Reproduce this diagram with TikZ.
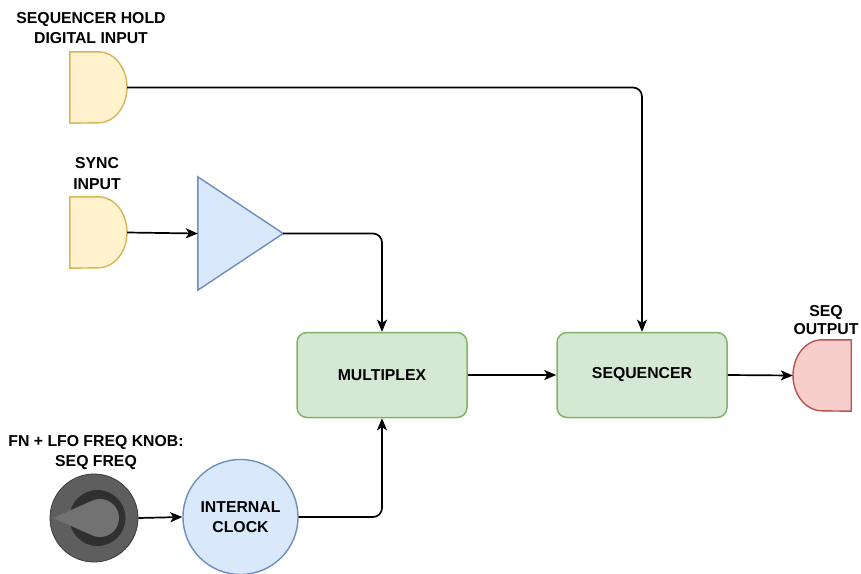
\documentclass[tikz,border=0pt]{standalone}
\usepackage{fontspec}
\setmainfont{Liberation Sans}
\usetikzlibrary{arrows.meta}
\definecolor{yelFill}{HTML}{FFF2CC}
\definecolor{yelLine}{HTML}{D6B656}
\definecolor{bluFill}{HTML}{DAE8FC}
\definecolor{bluLine}{HTML}{6C8EBF}
\definecolor{grnFill}{HTML}{D5E8D4}
\definecolor{grnLine}{HTML}{82B366}
\definecolor{redFill}{HTML}{F8CECC}
\definecolor{redLine}{HTML}{B85450}
\definecolor{knobOuter}{HTML}{5E5E5E}
\definecolor{knobEdge}{HTML}{3C3C3C}
\definecolor{knobRing}{HTML}{303030}
\definecolor{knobInner}{HTML}{727272}
\begin{document}
\begin{tikzpicture}[x=1pt,y=-1pt,
  lbl/.style={font=\fontsize{15.8}{20.5}\selectfont\bfseries, align=center, inner sep=0pt, text=black},
  conn/.style={draw=black, line width=1.7pt, -{Stealth[length=12pt,width=10pt,inset=3pt]}, rounded corners=9pt},
  greenbox/.style={lbl, rectangle, rounded corners=10pt, minimum width=170pt, minimum height=85pt, fill=grnFill, draw=grnLine, line width=1.5pt},
  holder/.style={rectangle, draw=none, inner sep=0pt, minimum width=57pt, minimum height=71pt},
  yelD/.style={fill=yelFill, draw=yelLine, line width=1.4pt},
  redD/.style={fill=redFill, draw=redLine, line width=1.4pt}
]
\useasboundingbox (0,0) rectangle (861,573);
\fill[white] (0,0) rectangle (861,573);

% labels
\node[lbl] (holdlbl) at (91,28) {SEQUENCER HOLD\\DIGITAL INPUT};
\node[lbl] (synclbl) at (97,173.5) {SYNC\\INPUT};
\node[lbl, font=\fontsize{15.8}{18}\selectfont\bfseries] (outlbl) at (826,320) {SEQ\\OUTPUT};
\node[lbl] (knoblbl) at (96,452.5) {FN + LFO FREQ KNOB:\\SEQ FREQ};

% D-shaped inputs
\node[holder] (hold) at (98.5,87.5) {};
\draw[yelD] (hold.north west) -- (hold.north) arc[start angle=-90,end angle=90,x radius=28.5,y radius=35.5] -- (hold.south west) -- cycle;
\node[holder] (sync) at (98.5,232.5) {};
\draw[yelD] (sync.north west) -- (sync.north) arc[start angle=-90,end angle=90,x radius=28.5,y radius=35.5] -- (sync.south west) -- cycle;

% output D
\node[holder, minimum width=58pt] (outp) at (822,375.5) {};
\draw[redD] (outp.north east) -- (outp.north) arc[start angle=-90,end angle=-270,x radius=29,y radius=35.5] -- (outp.south east) -- cycle;

% amplifier triangle
\node[rectangle, draw=none, inner sep=0pt, minimum width=85pt, minimum height=113pt] (amp) at (240.5,233.5) {};
\draw[fill=bluFill, draw=bluLine, line width=1.4pt] (amp.north west) -- (amp.east) -- (amp.south west) -- cycle;

% boxes
\node[greenbox] (mux) at (382,375) {MULTIPLEX};
\node[greenbox] (seq) at (642,375) {SEQUENCER};

% internal clock
\node[lbl, circle, minimum size=115pt, fill=bluFill, draw=bluLine, line width=1.4pt] (clock) at (240.5,517) {INTERNAL\\CLOCK};

% knob
\node[circle, inner sep=0pt, minimum size=88pt, fill=knobOuter, draw=knobEdge, line width=0.8pt] (knob) at (94,518) {};
\fill[knobRing] (97.5,518) circle[radius=28];
\fill[knobInner] (53,518) -- ([shift={(100,518)}]113:19) arc[start angle=113,end angle=-113,radius=19] -- cycle;

% connectors
\draw[conn] (hold.east) -| (seq.north);
\draw[conn] (sync.east) -- (amp.west);
\draw[conn] (amp.east) -| (mux.north);
\draw[conn] (mux.east) -- (seq.west);
\draw[conn] (seq.east) -- (outp.west);
\draw[conn] (knob.east) -- (clock.west);
\draw[conn] (clock.east) -| (mux.south);
\end{tikzpicture}
\end{document}
